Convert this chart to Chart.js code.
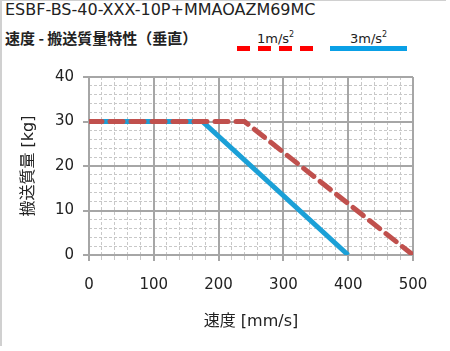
<!DOCTYPE html>
<html>
<head>
<meta charset="utf-8">
<script src="https://cdn.jsdelivr.net/npm/chart.js@4"></script>
<style>
  html, body { margin: 0; padding: 0; background: #fff; }
  #wrap { position: relative; width: 450px; height: 351px; overflow: hidden; font-family: "DejaVu Sans", "Noto Sans CJK JP", sans-serif; }
  #frameTop { position: absolute; left: 0; top: 0; width: 446px; height: 1px; background: #d0d0d0; }
  #frameLeft { position: absolute; left: 0; top: 0; width: 2px; height: 346px; background: #d0d0d0; }
  #model { position: absolute; left: 5px; top: 0px; font-size: 16px; color: #222; white-space: nowrap; }
  #sub { position: absolute; left: 5px; top: 27px; font-family: "Noto Sans CJK JP", sans-serif; font-size: 15px; font-weight: bold; color: #222; white-space: nowrap; }
  .lgLabel { position: absolute; top: 30px; font-size: 13px; color: #222; white-space: nowrap; }
  .lgLabel sup { font-size: 8px; vertical-align: 6px; }
  #lgRed { position: absolute; left: 237px; top: 46px; width: 78px; height: 5px;
    background: repeating-linear-gradient(to right, #f00 0 13px, transparent 13px 21px); }
  #lgBlue { position: absolute; left: 330px; top: 46px; width: 77px; height: 5px; background: #0aa0e6; }
  canvas { position: absolute; left: 0; top: 0; }
</style>
</head>
<body>
<div id="wrap">
  <div id="frameTop"></div>
  <div id="frameLeft"></div>
  <div id="model">ESBF-BS-40-XXX-10P+MMAOAZM69MC</div>
  <div id="sub">速度 - 搬送質量特性（垂直）</div>
  <div class="lgLabel" style="left:257px">1m/s<sup>2</sup></div>
  <div id="lgRed"></div>
  <div class="lgLabel" style="left:350px">3m/s<sup>2</sup></div>
  <div id="lgBlue"></div>
  <canvas id="myChart" width="450" height="351"></canvas>
</div>
<script>
// speed [mm/s] vs payload [kg]
let speed1 = [0, 240, 500];
let mass1 = [30, 30, 0];
let speed3 = [0, 175, 400];
let mass3 = [30, 30, 0];

let xTicks = [0, 100, 200, 300, 400, 500];
let yTicks = [0, 10, 20, 30, 40];

let toPoints = (xs, ys) => xs.map((x, i) => ({x: x, y: ys[i]}));

let ctx = document.getElementById('myChart').getContext('2d');
let fam = '"DejaVu Sans", "Noto Sans CJK JP", sans-serif';
let tickFont = {family: fam, size: 15};

let data = {
    type: 'scatter',
    data: {
        datasets: [{
            label: '1m/s²',
            data: toPoints(speed1, mass1),
            showLine: true,
            borderColor: 'rgb(192, 80, 77)',
            borderWidth: 5,
            borderDash: [13, 8],
            borderCapStyle: 'round',
            pointRadius: 0,
            order: 1,
        }, {
            label: '3m/s²',
            data: toPoints(speed3, mass3),
            showLine: true,
            borderColor: 'rgb(27, 160, 215)',
            borderWidth: 5,
            pointRadius: 0,
            order: 2,
        }]
    },
    options: {
        responsive: false,
        animation: false,
        layout: {padding: {left: 0, right: 37, top: 77, bottom: 0}},
        plugins: {legend: {display: false}, tooltip: {enabled: false}},
        scales: {
            xMinor: {
                type: 'linear', position: 'bottom', min: 0, max: 500, z: -1,
                ticks: {stepSize: 20, display: false},
                grid: {color: '#c8c8c8', lineWidth: 1, tickLength: 5, drawTicks: true},
                border: {display: false, dash: [3, 2]},
                afterFit: (s) => { s.height = 0; },
            },
            yMinor: {
                type: 'linear', position: 'left', min: 0, max: 40, z: -1,
                ticks: {stepSize: 2, display: false},
                grid: {color: '#c8c8c8', lineWidth: 1, drawTicks: false},
                border: {display: false, dash: [3, 2]},
                afterFit: (s) => { s.width = 0; },
            },
            x: {
                type: 'linear', position: 'bottom', min: 0, max: 500,
                afterBuildTicks: (s) => { s.ticks = xTicks.map(v => ({value: v})); },
                ticks: {font: tickFont, color: '#222', padding: 15, maxRotation: 0},
                grid: {color: '#a6a6a6', lineWidth: 2, tickLength: 6},
                border: {color: '#a6a6a6', width: 2},
                title: {display: true, text: '速度 [mm/s]', font: {family: fam, size: 16}, color: '#222', padding: {bottom: 20}},
                afterFit: (s) => { s.height = 96; },
            },
            y: {
                type: 'linear', position: 'left', min: 0, max: 40,
                afterBuildTicks: (s) => { s.ticks = yTicks.map(v => ({value: v})); },
                ticks: {font: tickFont, color: '#222', padding: 9},
                grid: {color: '#a6a6a6', lineWidth: 2, tickLength: 6},
                border: {color: '#a6a6a6', width: 2},
                title: {display: true, text: '搬送質量 [kg]', font: {family: fam, size: 16}, color: '#222', padding: {top: 19}},
                afterFit: (s) => { s.width = 89; },
            }
        }
    }
};

let myChart = new Chart(ctx, data);
</script>
</body>
</html>
